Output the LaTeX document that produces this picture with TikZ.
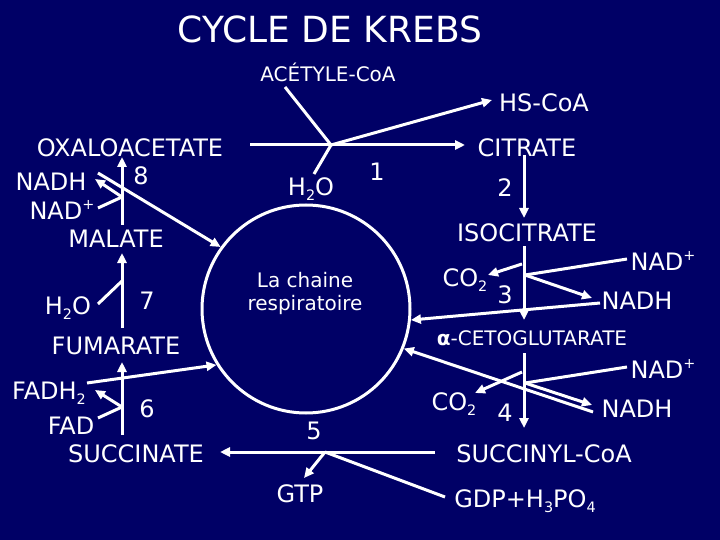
\documentclass[tikz,border=0pt]{standalone}
\usepackage{fontspec}
\setmainfont{DejaVu Sans}
\usetikzlibrary{arrows.meta}
\definecolor{bg}{RGB}{0,0,102}
\newcommand{\sbs}[1]{\raisebox{-0.35ex}{\scalebox{0.6}{#1}}}
\newcommand{\sps}[1]{\raisebox{0.75ex}{\scalebox{0.6}{#1}}}
\begin{document}
\begin{tikzpicture}[x=1pt,y=-1pt,
 lab/.style={text=white,font=\fontsize{24}{27}\selectfont,inner sep=0pt},
 sm/.style={text=white,font=\fontsize{20}{23}\selectfont,inner sep=0pt},
 ttl/.style={text=white,font=\fontsize{36}{40}\selectfont,inner sep=0pt},
 ln/.style={draw=white,line width=3pt},
 ar/.style={ln,-{Triangle[length=10pt,width=9pt]}},
]
\fill[bg] (0,0) rectangle (720,540);
\useasboundingbox (0,0) rectangle (720,540);
% texts
\node[ttl] (title) at (330,29) {CYCLE DE KREBS};
\node[sm] (acet) at (328,72) {ACÉTYLE-CoA};
\node[lab] (hscoa) at (544,103) {HS-CoA};
\node[lab] (oxalo) at (130,148) {OXALOACETATE};
\node[lab] (citrate) at (527,148) {CITRATE};
\node[lab] (n1) at (377,172) {1};
\node[lab] (h2oa) at (311,189) {H\sbs{2}O};
\node[lab] (n2) at (505,188) {2};
\node[lab] (nadhL) at (51,182) {NADH};
\node[lab] (n8) at (141,176) {8};
\node[lab] (nadL) at (62,210) {NAD\sps{+}};
\node[lab] (malate) at (116,239) {MALATE};
\node[lab] (isocit) at (527,233) {ISOCITRATE};
\node[lab] (nadR1) at (663,261) {NAD\sps{+}};
\node[lab] (co2a) at (465,280) {CO\sbs{2}};
\node[lab] (n3) at (505,295) {3};
\node[lab] (nadhR1) at (637,301) {NADH};
\node[lab] (h2ob) at (68,308) {H\sbs{2}O};
\node[lab] (n7) at (147,301) {7};
\node[lab] (fumarate) at (116,346) {FUMARATE};
\node[sm] (akg) at (532,338) {{\bfseries α}-CETOGLUTARATE};
\node[lab] (nadR2) at (663,369) {NAD\sps{+}};
\node[lab] (co2b) at (454,404) {CO\sbs{2}};
\node[lab] (n4) at (505,413) {4};
\node[lab] (nadhR2) at (637,409) {NADH};
\node[lab] (fadh2) at (49,393) {FADH\sbs{2}};
\node[lab] (n6) at (147,409) {6};
\node[lab] (fad) at (71,426) {FAD};
\node[lab] (succinate) at (136,454) {SUCCINATE};
\node[lab] (n5) at (314,431) {5};
\node[lab] (succoa) at (544,454) {SUCCINYL-CoA};
\node[lab] (gtp) at (300,494) {GTP};
\node[lab] (gdp) at (525,501) {GDP+H\sbs{3}PO\sbs{4}};
\node[draw=white,line width=3pt,circle,minimum size=208pt,inner sep=0pt] (chain) at (306,309) {};
\node[sm,align=center] (chaintxt) at (305,293) {La chaine\\respiratoire};
% coordinates
\coordinate (r1) at (331,145);
\coordinate (r1s) at (250,145);
\coordinate (r1e) at (465,145);
\coordinate (acs) at (285,87);
\coordinate (h2s) at (314,174);
\coordinate (hse) at (492,100);
\coordinate (r2s) at (524,155);
\coordinate (r2e) at (524,218);
\coordinate (r3s) at (524,246);
\coordinate (r3e) at (524,320);
\coordinate (r3) at (525,275);
\coordinate (nad1s) at (627,259);
\coordinate (nadh1e) at (592,298);
\coordinate (co2as) at (522,264);
\coordinate (co2ae) at (488,275);
\coordinate (nadh1s) at (600,303);
\coordinate (r4s) at (524,353);
\coordinate (r4e) at (524,428);
\coordinate (r4) at (525,383);
\coordinate (nad2s) at (627,367);
\coordinate (nadh2e) at (592,405);
\coordinate (co2bs) at (522,372);
\coordinate (co2be) at (475,393);
\coordinate (nadh2s) at (593,412);
\coordinate (r5s) at (435,452);
\coordinate (r5e) at (220,452);
\coordinate (r5) at (325,452);
\coordinate (gtpe) at (304,478);
\coordinate (gdps) at (445,497);
\coordinate (r6s) at (122,435);
\coordinate (r6e) at (122,362);
\coordinate (r6) at (122,407);
\coordinate (fads) at (98,418);
\coordinate (fadh2e) at (95,390);
\coordinate (fadh2s) at (87,383);
\coordinate (r7s) at (122,328);
\coordinate (r7e) at (122,253);
\coordinate (r7) at (122,281);
\coordinate (h2bs) at (98,304);
\coordinate (r8s) at (122,225);
\coordinate (r8e) at (122,157);
\coordinate (r8) at (122,197);
\coordinate (nadLs) at (98,208);
\coordinate (nadhLe) at (95,179);
\coordinate (nadhLs) at (98,173);
% reaction 1
\draw[ln] (r1s) -- (r1);
\draw[ar] (r1) -- (r1e);
\draw[ln] (acs) -- (r1);
\draw[ln] (h2s) -- (r1);
\draw[ar] (r1) -- (hse);
% reaction 2
\draw[ar] (r2s) -- (r2e);
% reaction 3
\draw[ar] (r3s) -- (r3e);
\draw[ln] (nad1s) -- (r3);
\draw[ar] (r3) -- (nadh1e);
\draw[ar] (co2as) -- (co2ae);
\draw[ar] (nadh1s) -- (chain.-6.5);
% reaction 4
\draw[ar] (r4s) -- (r4e);
\draw[ln] (nad2s) -- (r4);
\draw[ar] (r4) -- (nadh2e);
\draw[ar] (co2bs) -- (co2be);
\draw[ar] (nadh2s) -- (chain.-22);
% reaction 5
\draw[ln] (r5s) -- (r5);
\draw[ar] (r5) -- (r5e);
\draw[ar] (r5) -- (gtpe);
\draw[ln] (gdps) -- (r5);
% reaction 6
\draw[ar] (r6s) -- (r6e);
\draw[ln] (fads) -- (r6);
\draw[ar] (r6) -- (fadh2e);
\draw[ar] (fadh2s) -- (chain.212);
% reaction 7
\draw[ar] (r7s) -- (r7e);
\draw[ln] (h2bs) -- (r7);
% reaction 8
\draw[ar] (r8s) -- (r8e);
\draw[ln] (nadLs) -- (r8);
\draw[ar] (r8) -- (nadhLe);
\draw[ar] (nadhLs) -- (chain.144);
\end{tikzpicture}
\end{document}
